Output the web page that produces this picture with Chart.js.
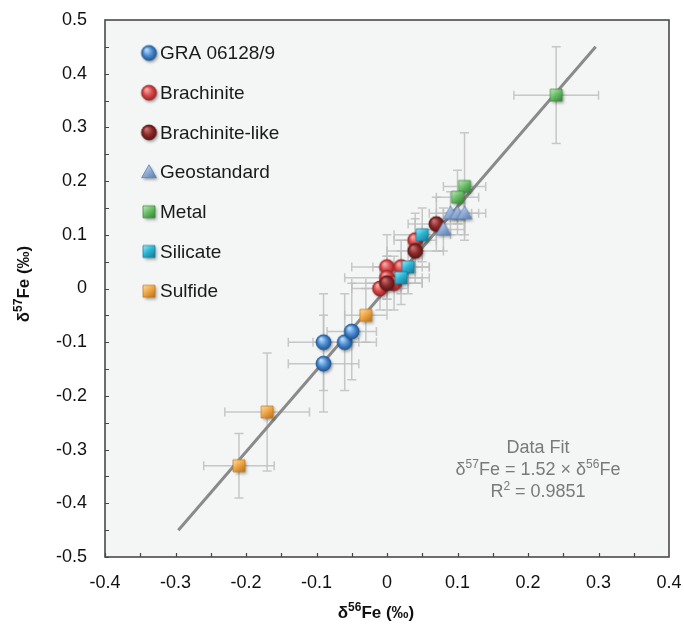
<!DOCTYPE html>
<html><head><meta charset="utf-8">
<script src="https://cdn.jsdelivr.net/npm/chart.js@4"></script>
<style>html,body{margin:0;padding:0;background:#fff}canvas{display:block}</style>
</head><body>
<canvas id="c" width="684" height="626"></canvas>
<script>
// ---- data ----
const graX = [-0.09, -0.09, -0.06, -0.05];
const graY = [-0.10, -0.14, -0.10, -0.08];
const graEx = [0.05, 0.05, 0.045, 0.035];
const graEy = [0.09, 0.09, 0.09, 0.09];

const brachX = [0.04, 0.00, 0.02, 0.00, 0.01, -0.01];
const brachY = [0.09, 0.04, 0.04, 0.02, 0.01, 0.00];
const brachEx = [0.03, 0.05, 0.04, 0.06, 0.04, 0.04];
const brachEy = [0.05, 0.06, 0.05, 0.04, 0.05, 0.04];

const likeX = [0.07, 0.04, 0.00];
const likeY = [0.12, 0.07, 0.01];
const likeEx = [0.04, 0.04, 0.05];
const likeEy = [0.05, 0.06, 0.05];

const geoX = [0.09, 0.10, 0.11, 0.08];
const geoY = [0.14, 0.14, 0.14, 0.11];
const geoEx = [0.03, 0.03, 0.03, 0.03];
const geoEy = [0.04, 0.04, 0.04, 0.04];

const metalX = [0.24, 0.11, 0.10];
const metalY = [0.36, 0.19, 0.17];
const metalEx = [0.06, 0.03, 0.03];
const metalEy = [0.09, 0.10, 0.05];

const silX = [0.05, 0.03, 0.02];
const silY = [0.10, 0.04, 0.02];
const silEx = [0.04, 0.03, 0.03];
const silEy = [0.05, 0.05, 0.05];

const sulX = [-0.03, -0.17, -0.21];
const sulY = [-0.05, -0.23, -0.33];
const sulEx = [0.03, 0.06, 0.05];
const sulEy = [0.05, 0.11, 0.06];

const fitX = [-0.296, 0.296];
const fitY = [-0.45, 0.45];

const seriesNames = ['GRA 06128/9', 'Brachinite', 'Brachinite-like', 'Geostandard', 'Metal', 'Silicate', 'Sulfide'];
const xTicks = [-0.4, -0.3, -0.2, -0.1, 0, 0.1, 0.2, 0.3, 0.4];
const yTicks = [-0.5, -0.4, -0.3, -0.2, -0.1, 0, 0.1, 0.2, 0.3, 0.4, 0.5];
const fitText = ['Data Fit', 'δ57Fe = 1.52 × δ56Fe', 'R2 = 0.9851'];

// ---- markers ----
function makeMarker(shape, light, base, dark, size) {
  const pad = 5;
  const c = document.createElement('canvas');
  c.width = size + pad * 2; c.height = size + pad * 2;
  const g = c.getContext('2d');
  const cx = c.width / 2, cy = c.height / 2, r = size / 2;
  function path() {
    g.beginPath();
    if (shape === 'circle') g.arc(cx, cy, r, 0, Math.PI * 2);
    else if (shape === 'square') g.rect(cx - r, cy - r, size, size);
    else { g.moveTo(cx, cy - r * 1.05); g.lineTo(cx + r * 1.05, cy + r * 0.8); g.lineTo(cx - r * 1.05, cy + r * 0.8); g.closePath(); }
  }
  g.save();
  g.shadowColor = 'rgba(0,0,0,0.35)'; g.shadowBlur = 3; g.shadowOffsetX = 1.5; g.shadowOffsetY = 2;
  path(); g.fillStyle = base; g.fill();
  g.restore();
  let grad;
  if (shape === 'circle') {
    grad = g.createRadialGradient(cx - r * 0.35, cy - r * 0.45, r * 0.1, cx, cy, r);
    grad.addColorStop(0, light); grad.addColorStop(0.55, base); grad.addColorStop(1, dark);
  } else {
    grad = g.createLinearGradient(cx - r, cy - r, cx + r * 0.6, cy + r);
    grad.addColorStop(0, light); grad.addColorStop(0.5, base); grad.addColorStop(1, dark);
  }
  path(); g.fillStyle = grad; g.fill();
  g.lineWidth = 0.8; g.strokeStyle = dark; g.stroke();
  return c;
}
const markers = [
  makeMarker('circle', '#b8d8f8', '#4a8cd4', '#22558f', 15),
  makeMarker('circle', '#f5a8a8', '#d94a4a', '#9c2424', 15),
  makeMarker('circle', '#c87070', '#8c2a2a', '#5a1515', 15),
  makeMarker('triangle', '#dde8f6', '#92afd6', '#5d7fae', 14),
  makeMarker('square', '#c6ecc0', '#6cc06a', '#3c8a3c', 12),
  makeMarker('square', '#a6ecfa', '#2cb6d6', '#1a7f99', 12),
  makeMarker('square', '#fde0a6', '#f2a848', '#c07820', 12)
];

const allX = [graX, brachX, likeX, geoX, metalX, silX, sulX];
const allY = [graY, brachY, likeY, geoY, metalY, silY, sulY];
const allEx = [graEx, brachEx, likeEx, geoEx, metalEx, silEx, sulEx];
const allEy = [graEy, brachEy, likeEy, geoEy, metalEy, silEy, sulEy];

const datasets = seriesNames.map((n, i) => ({
  label: n,
  data: allX[i].map((x, j) => ({ x: x, y: allY[i][j], ex: allEx[i][j], ey: allEy[i][j] })),
  pointStyle: markers[i], pointRadius: 7, pointHoverRadius: 7, showLine: false, order: 10 - i
}));
datasets.unshift({
  label: 'fit', data: fitX.map((x, j) => ({ x: x, y: fitY[j] })), showLine: true,
  borderColor: '#8a8a8a', borderWidth: 3, pointRadius: 0, fill: false, order: 20
});

const FONT = '"Liberation Sans", Arial, Helvetica, sans-serif';

function richParts(str) {
  const parts = [];
  const re = /(δ)(\d+)|(R)(2)/g;
  let last = 0, m;
  while ((m = re.exec(str))) {
    if (m.index > last) parts.push({ t: str.slice(last, m.index), s: false });
    parts.push({ t: m[1] || m[3], s: false });
    parts.push({ t: m[2] || m[4], s: true });
    last = re.lastIndex;
  }
  if (last < str.length) parts.push({ t: str.slice(last), s: false });
  return parts;
}
function drawRich(ctx, str, x, y, size, weight, color) {
  const parts = richParts(str);
  const fN = weight + ' ' + size + 'px ' + FONT;
  const fS = weight + ' ' + Math.round(size * 0.68) + 'px ' + FONT;
  let w = 0;
  parts.forEach(p => { ctx.font = p.s ? fS : fN; p.w = ctx.measureText(p.t).width; w += p.w; });
  let cx = x - w / 2;
  ctx.fillStyle = color; ctx.textBaseline = 'middle'; ctx.textAlign = 'left';
  parts.forEach(p => {
    ctx.font = p.s ? fS : fN;
    ctx.fillText(p.t, cx, p.s ? y - size * 0.32 : y);
    cx += p.w;
  });
}

const custom = {
  id: 'custom',
  beforeDraw(chart) {
    const { ctx, chartArea: a } = chart;
    ctx.save(); ctx.fillStyle = '#f3f6f5';
    ctx.fillRect(a.left, a.top, a.right - a.left, a.bottom - a.top);
    ctx.restore();
  },
  beforeDatasetsDraw(chart) {
    const { ctx, scales: { x: sx, y: sy } } = chart;
    ctx.save();
    ctx.strokeStyle = 'rgba(190,190,190,0.85)'; ctx.lineWidth = 1.5;
    const cap = 4.5;
    chart.data.datasets.forEach(ds => {
      if (ds.label === 'fit') return;
      ds.data.forEach(p => {
        const px = sx.getPixelForValue(p.x), py = sy.getPixelForValue(p.y);
        const x1 = sx.getPixelForValue(p.x - p.ex), x2 = sx.getPixelForValue(p.x + p.ex);
        const y1 = sy.getPixelForValue(p.y - p.ey), y2 = sy.getPixelForValue(p.y + p.ey);
        ctx.beginPath();
        ctx.moveTo(x1, py); ctx.lineTo(x2, py);
        ctx.moveTo(x1, py - cap); ctx.lineTo(x1, py + cap);
        ctx.moveTo(x2, py - cap); ctx.lineTo(x2, py + cap);
        ctx.moveTo(px, y1); ctx.lineTo(px, y2);
        ctx.moveTo(px - cap, y1); ctx.lineTo(px + cap, y1);
        ctx.moveTo(px - cap, y2); ctx.lineTo(px + cap, y2);
        ctx.stroke();
      });
    });
    ctx.restore();
  },
  afterDraw(chart) {
    const { ctx, chartArea: a, scales: { x: sx, y: sy } } = chart;
    ctx.save();
    ctx.strokeStyle = '#444'; ctx.lineWidth = 1.2;
    ctx.beginPath();
    for (let i = 0; i < xTicks.length - 1; i++) {
      [xTicks[i], (xTicks[i] + xTicks[i + 1]) / 2].forEach(v => {
        const px = Math.round(sx.getPixelForValue(v)) + 0.5;
        ctx.moveTo(px, a.bottom); ctx.lineTo(px, a.bottom - 4);
      });
    }
    for (let i = 0; i < yTicks.length - 1; i++) {
      [yTicks[i], (yTicks[i] + yTicks[i + 1]) / 2].forEach(v => {
        const py = Math.round(sy.getPixelForValue(v)) + 0.5;
        ctx.moveTo(a.left, py); ctx.lineTo(a.left + 4, py);
      });
    }
    ctx.stroke();
    ctx.strokeStyle = '#4a4a4a'; ctx.lineWidth = 1.6;
    ctx.strokeRect(a.left, a.top, a.right - a.left, a.bottom - a.top);
    const lx = 149, ly0 = 53, lstep = 39.7;
    seriesNames.forEach((n, i) => {
      const y = ly0 + i * lstep;
      const m = markers[i];
      ctx.drawImage(m, lx - m.width / 2, y - m.height / 2);
      ctx.font = '19px ' + FONT; ctx.fillStyle = '#1a1a1a';
      ctx.textAlign = 'left'; ctx.textBaseline = 'middle';
      ctx.fillText(n, 160, y + 1);
    });
    const fx = 538;
    drawRich(ctx, fitText[0], fx, 448, 18, 'normal', '#7a7a7a');
    drawRich(ctx, fitText[1], fx, 470, 18, 'normal', '#7a7a7a');
    drawRich(ctx, fitText[2], fx, 492, 18, 'normal', '#7a7a7a');
    drawRich(ctx, 'δ56Fe (‰)', 376, 613, 17, 'bold', '#111');
    ctx.translate(24, 284); ctx.rotate(-Math.PI / 2);
    drawRich(ctx, 'δ57Fe (‰)', 0, 0, 17, 'bold', '#111');
    ctx.restore();
  }
};

new Chart(document.getElementById('c'), {
  type: 'scatter',
  data: { datasets: datasets },
  options: {
    responsive: false, animation: false, devicePixelRatio: 1,
    layout: { padding: { top: 20, right: 15, left: 0, bottom: 0 } },
    plugins: { legend: { display: false }, tooltip: { enabled: false } },
    scales: {
      x: {
        type: 'linear', min: -0.4, max: 0.4,
        afterBuildTicks: s => { s.ticks = xTicks.map(v => ({ value: v })); },
        afterFit: s => { s.height = 69; s.paddingLeft = 0; s.paddingRight = 0; },
        grid: { display: false, drawTicks: false },
        border: { display: false },
        ticks: { color: '#111', font: { size: 18, family: FONT }, padding: 15, maxRotation: 0,
          callback: v => String(Math.round(v * 10) / 10) }
      },
      y: {
        type: 'linear', min: -0.5, max: 0.5,
        afterBuildTicks: s => { s.ticks = yTicks.map(v => ({ value: v })); },
        afterFit: s => { s.width = 105; s.paddingTop = 0; s.paddingBottom = 0; },
        grid: { display: false, drawTicks: false },
        border: { display: false },
        ticks: { color: '#111', font: { size: 18, family: FONT }, padding: 18,
          callback: v => String(Math.round(v * 10) / 10) }
      }
    }
  },
  plugins: [custom]
});
</script>
</body></html>
